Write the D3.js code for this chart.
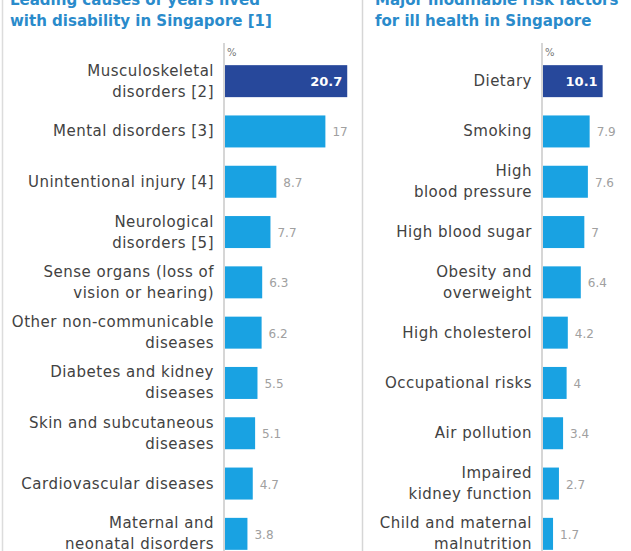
<!DOCTYPE html>
<html>
<head>
<meta charset="utf-8">
<script src="https://cdn.jsdelivr.net/npm/d3@7"></script>
<style>
  html, body { margin: 0; padding: 0; background: #fff; }
  svg { display: block; }
</style>
</head>
<body>
<svg id="chart" width="631" height="551"></svg>
<script>
// Leading causes of years lived with disability
const disabilityCauses = [
  "Musculoskeletal\ndisorders [2]",
  "Mental disorders [3]",
  "Unintentional injury [4]",
  "Neurological\ndisorders [5]",
  "Sense organs (loss of\nvision or hearing)",
  "Other non-communicable\ndiseases",
  "Diabetes and kidney\ndiseases",
  "Skin and subcutaneous\ndiseases",
  "Cardiovascular diseases",
  "Maternal and\nneonatal disorders"
];
const disabilityShares = [20.7, 17, 8.7, 7.7, 6.3, 6.2, 5.5, 5.1, 4.7, 3.8];

// Major modifiable risk factors for ill health
const riskFactors = [
  "Dietary",
  "Smoking",
  "High\nblood pressure",
  "High blood sugar",
  "Obesity and\noverweight",
  "High cholesterol",
  "Occupational risks",
  "Air pollution",
  "Impaired\nkidney function",
  "Child and maternal\nmalnutrition"
];
const riskShares = [10.1, 7.9, 7.6, 7, 6.4, 4.2, 4, 3.4, 2.7, 1.7];

const panelTitles = [
  ["Leading causes of years lived", "with disability in Singapore [1]"],
  ["Major modifiable risk factors", "for ill health in Singapore"]
];
const unitLabel = "%";

const svg = d3.select("#chart");
const W = 631, H = 551;

const DARK = "#27489b";
const LIGHT = "#19a2e2";
const TITLE = "#2a8bcb";
const LABEL = "#424242";
const VALUE = "#a0a0a0";
const RULE = "#c8c8c8";
const FONT = "'DejaVu Sans', Verdana, sans-serif";

// Panel separators
svg.append("line").attr("x1", 2.5).attr("x2", 2.5).attr("y1", 0).attr("y2", H)
  .attr("stroke", "#dcdcdc").attr("stroke-width", 1.5);
svg.append("line").attr("x1", 362.5).attr("x2", 362.5).attr("y1", 0).attr("y2", H)
  .attr("stroke", "#d6d6d6").attr("stroke-width", 1.5);

// Shared value scale so both panels use the same units per pixel
const x = d3.scaleLinear().domain([0, 21]).range([0, 124]);

function drawPanel(opts) {
  const { cats, vals, axisX, titleX, title } = opts;
  const g = svg.append("g");

  const y = d3.scaleBand()
    .domain(cats)
    .range([56, 559])
    .paddingInner(0.364)
    .paddingOuter(0.182);

  // Title
  const t = g.append("text")
    .attr("x", titleX)
    .attr("font-family", FONT)
    .attr("font-weight", "bold")
    .attr("font-size", 15)
    .attr("fill", TITLE);
  title.forEach((line, i) => {
    t.append("tspan").attr("x", titleX).attr("y", 5 + i * 21).text(line);
  });

  // Axis line
  g.append("line")
    .attr("x1", axisX).attr("x2", axisX)
    .attr("y1", 43).attr("y2", H)
    .attr("stroke", RULE).attr("stroke-width", 1.5);

  g.append("text")
    .attr("x", axisX + 3).attr("y", 56)
    .attr("font-family", FONT).attr("font-size", 10)
    .attr("fill", "#777")
    .text(unitLabel);

  const rows = g.selectAll("g.row")
    .data(cats.map((c, i) => ({ cat: c, val: vals[i], i })))
    .join("g").attr("class", "row");

  rows.append("rect")
    .attr("x", axisX + 1)
    .attr("y", d => y(d.cat))
    .attr("width", d => x(d.val))
    .attr("height", y.bandwidth())
    .attr("fill", d => d.i === 0 ? DARK : LIGHT);

  // Category labels, right-aligned against the axis
  rows.each(function(d) {
    const lines = d.cat.split("\n");
    const cy = y(d.cat) + y.bandwidth() / 2;
    const lh = 21;
    const txt = d3.select(this).append("text")
      .attr("text-anchor", "end")
      .attr("font-family", FONT)
      .attr("font-size", 15)
      .attr("letter-spacing", 0.5)
      .attr("fill", LABEL);
    lines.forEach((ln, k) => {
      txt.append("tspan")
        .attr("x", axisX - 10)
        .attr("y", cy + 5 + (k - (lines.length - 1) / 2) * lh)
        .text(ln);
    });
  });

  // Value labels: inside the leading bar, outside the others
  rows.append("text")
    .attr("x", d => d.i === 0 ? axisX + 1 + x(d.val) - 5 : axisX + 1 + x(d.val) + 7)
    .attr("y", d => y(d.cat) + y.bandwidth() / 2 + 5)
    .attr("text-anchor", d => d.i === 0 ? "end" : "start")
    .attr("font-family", FONT)
    .attr("font-size", d => d.i === 0 ? 13 : 12)
    .attr("font-weight", d => d.i === 0 ? "bold" : "normal")
    .attr("fill", d => d.i === 0 ? "#fff" : VALUE)
    .text(d => String(d.val));
}

drawPanel({ cats: disabilityCauses, vals: disabilityShares, axisX: 224, titleX: 10, title: panelTitles[0] });
drawPanel({ cats: riskFactors, vals: riskShares, axisX: 542, titleX: 375, title: panelTitles[1] });
</script>
</body>
</html>
